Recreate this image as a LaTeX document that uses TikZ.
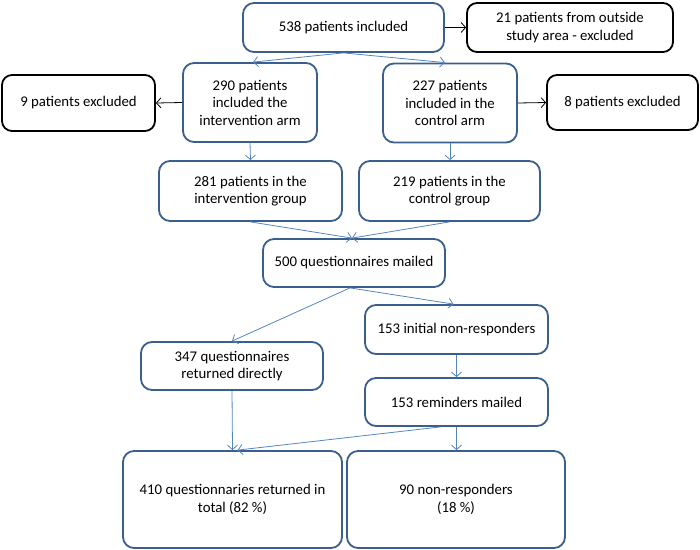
\documentclass[tikz,border=0pt]{standalone}
\usepackage{fontspec}
\setmainfont{Carlito}
\usetikzlibrary{arrows.meta}
\definecolor{boxblue}{HTML}{3B5F8C}
\definecolor{arrblue}{HTML}{5585C0}
\tikzset{
  bbox/.style={draw=boxblue, line width=1.8pt, rounded corners=11pt, fill=white, align=center, inner sep=0pt, font=\fontsize{14.8}{17.5}\selectfont},
  kbox/.style={draw=black, line width=1.8pt, rounded corners=10pt, fill=white, align=center, inner sep=0pt, font=\fontsize{14.8}{17.5}\selectfont},
  barr/.style={draw=arrblue, line width=0.8pt, -{Straight Barb[length=4.5pt,width=10pt]}},
  karr/.style={draw=black, line width=0.8pt, -{Straight Barb[length=4.5pt,width=10pt]}}
}
\begin{document}
\begin{tikzpicture}[x=1pt,y=-1pt]
\useasboundingbox (0,0) rectangle (700,549);
\node[bbox, minimum width=201pt, minimum height=49pt] (n538) at (343.5,27.5) {538 patients included};
\node[kbox, minimum width=206pt, minimum height=49pt] (n21) at (570,27.5) {21 patients from outside\\study area - excluded};
\node[kbox, minimum width=153pt, minimum height=56pt] (n9) at (78.5,103) {9 patients excluded};
\node[bbox, minimum width=134pt, minimum height=79pt] (n290) at (250,102.5) {290 patients\\included the\\intervention arm};
\node[bbox, minimum width=134pt, minimum height=79pt] (n227) at (450,103) {227 patients\\included in the\\control arm};
\node[kbox, minimum width=151pt, minimum height=55pt] (n8) at (622.5,102.5) {8 patients excluded};
\node[bbox, minimum width=183pt, minimum height=60pt] (n281) at (250.5,191) {281 patients in the\\intervention group};
\node[bbox, minimum width=181pt, minimum height=60pt] (n219) at (449.5,191) {219 patients in the\\control group};
\node[bbox, minimum width=182pt, minimum height=48pt] (n500) at (354,263) {500 questionnaires mailed};
\node[bbox, minimum width=183pt, minimum height=49pt] (n153i) at (456.5,329.5) {153 initial non-responders};
\node[bbox, minimum width=182pt, minimum height=48pt] (n347) at (232,366) {347 questionnaires\\returned directly};
\node[bbox, minimum width=183pt, minimum height=48pt] (n153r) at (456.5,402) {153 reminders mailed};
\node[bbox, minimum width=219pt, minimum height=97pt] (n410) at (232.5,499.5) {410 questionnaries returned in\\total (82 \%)};
\node[bbox, minimum width=218pt, minimum height=97pt] (n90) at (456,499.5) {90 non-responders\\(18 \%)};

\draw[karr] (n538.east) -- (n21.west);
\draw[karr] (n290.west) -- (n9.east);
\draw[karr] (n227.east) -- (n8.west);
\draw[barr] (n538.south) -- ([xshift=3pt]n290.north);
\draw[barr] (n538.south) -- ([xshift=-5pt]n227.north);
\draw[barr] (n290.south) -- (n281.north);
\draw[barr] (n227.south) -- ([xshift=0.5pt]n219.north);
\draw[barr] (n281.south) -- ([xshift=-2pt]n500.north);
\draw[barr] (n219.south) -- ([xshift=-2pt]n500.north);
\draw[barr] ([xshift=-4pt]n500.south) -- (n347.north);
\draw[barr] ([xshift=-4pt]n500.south) -- ([xshift=-3pt]n153i.north);
\draw[barr] (n153i.south) -- (n153r.north);
\draw[barr] (n347.south) -- (n410.north);
\draw[barr] ([xshift=-16pt]n153r.south) -- ([xshift=5pt]n410.north);
\draw[barr] (n153r.south) -- (n153r.south |- n90.north);
\end{tikzpicture}
\end{document}
